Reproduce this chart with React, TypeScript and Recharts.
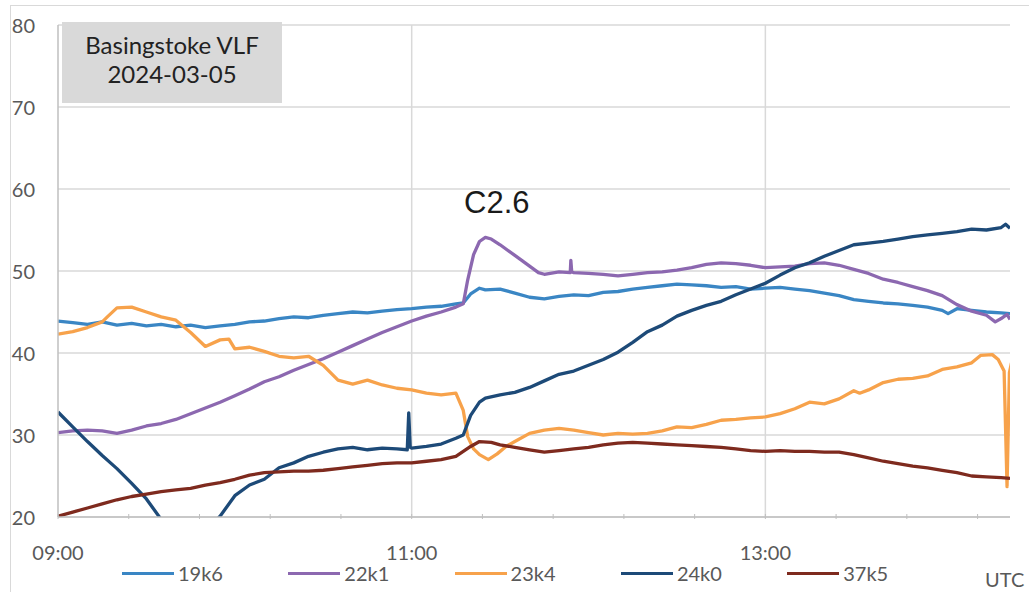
import React from 'react';
import { LineChart, Line, XAxis, YAxis, CartesianGrid, ReferenceLine } from 'recharts';

// time in minutes after 09:00 UTC, value
const s19k6: [number, number][] = [
  [0, 43.9], [5, 43.7], [10, 43.5], [15, 43.8], [20, 43.4], [25, 43.6], [30, 43.3], [35, 43.5],
  [40, 43.2], [45, 43.4], [50, 43.1], [55, 43.3], [60, 43.5], [65, 43.8], [70, 43.9], [75, 44.2],
  [80, 44.4], [85, 44.3], [90, 44.6], [95, 44.8], [100, 45.0], [105, 44.9], [110, 45.1], [115, 45.3],
  [120, 45.4], [125, 45.6], [130, 45.7], [135, 46.0], [137.5, 46.1], [140, 47.2], [143, 47.9], [145, 47.7],
  [150, 47.8], [155, 47.3], [160, 46.8], [165, 46.6], [170, 46.9], [175, 47.1], [180, 47.0], [185, 47.4],
  [190, 47.5], [195, 47.8], [200, 48.0], [205, 48.2], [210, 48.4], [215, 48.3], [220, 48.2], [225, 48.0],
  [230, 48.1], [235, 47.8], [240, 47.9], [245, 48.0], [250, 47.8], [255, 47.6], [260, 47.3], [265, 47.0],
  [270, 46.5], [275, 46.3], [280, 46.1], [285, 46.0], [290, 45.8], [295, 45.6], [300, 45.2], [302, 44.8],
  [305, 45.4], [310, 45.2], [315, 45.0], [320, 44.9], [323, 44.8],
];

const s22k1: [number, number][] = [
  [0, 30.3], [5, 30.5], [10, 30.6], [15, 30.5], [20, 30.2], [25, 30.6], [30, 31.1], [35, 31.4],
  [40, 31.9], [45, 32.6], [50, 33.3], [55, 34.0], [60, 34.8], [65, 35.6], [70, 36.5], [75, 37.1],
  [80, 37.9], [85, 38.6], [90, 39.3], [95, 40.1], [100, 40.9], [105, 41.7], [110, 42.5], [115, 43.2],
  [120, 43.9], [125, 44.5], [130, 45.0], [135, 45.6], [137.5, 46.0], [139, 48.9], [141, 52.0], [143, 53.6],
  [145, 54.1], [147, 53.9], [150, 53.2], [155, 51.9], [160, 50.6], [163, 49.8], [165, 49.6], [170, 49.9],
  [173.8, 49.8], [174, 51.3], [174.3, 49.9], [175, 49.8], [180, 49.7], [185, 49.6], [190, 49.4], [195, 49.6],
  [200, 49.8], [205, 49.9], [210, 50.1], [215, 50.4], [220, 50.8], [225, 51.0], [230, 50.9], [235, 50.7],
  [240, 50.4], [245, 50.5], [250, 50.6], [255, 50.9], [260, 51.0], [265, 50.7], [270, 50.2], [275, 49.7],
  [280, 49.0], [285, 48.6], [290, 48.1], [295, 47.6], [300, 47.0], [305, 45.9], [310, 45.1], [315, 44.6],
  [318, 43.8], [320, 44.2], [322, 44.7], [323, 44.1],
];

const s23k4: [number, number][] = [
  [0, 42.3], [5, 42.6], [10, 43.1], [15, 43.8], [17, 44.5], [20, 45.5], [25, 45.6], [30, 45.0],
  [35, 44.4], [40, 44.0], [45, 42.5], [50, 40.8], [55, 41.6], [58, 41.7], [60, 40.5], [65, 40.7],
  [70, 40.2], [75, 39.6], [80, 39.4], [85, 39.6], [90, 38.5], [95, 36.7], [100, 36.2], [105, 36.7],
  [110, 36.1], [115, 35.7], [120, 35.5], [125, 35.1], [130, 34.9], [135, 35.1], [137.5, 33.0], [139, 29.8],
  [141, 28.3], [143, 27.6], [146, 27.0], [149, 27.7], [152, 28.6], [155, 29.2], [160, 30.2], [165, 30.6],
  [170, 30.8], [175, 30.6], [180, 30.3], [185, 30.0], [190, 30.2], [195, 30.1], [200, 30.2], [205, 30.5],
  [210, 31.0], [215, 30.9], [220, 31.3], [225, 31.8], [230, 31.9], [235, 32.1], [240, 32.2], [245, 32.6],
  [250, 33.2], [255, 34.0], [260, 33.8], [265, 34.4], [270, 35.4], [272, 35.1], [275, 35.5], [280, 36.4],
  [285, 36.8], [290, 36.9], [295, 37.2], [300, 38.0], [305, 38.3], [310, 38.8], [313, 39.7], [317, 39.8],
  [319, 39.2], [321, 37.8], [322, 23.7], [322.8, 37.6], [323.5, 38.8],
];

const s24k0: [number, number][] = [
  [0, 32.8], [5, 31.0], [10, 29.2], [15, 27.5], [20, 25.9], [25, 24.1], [30, 22.2], [35, 19.7],
  [40, 17.9], [45, 16.4], [50, 18.2], [55, 20.1], [60, 22.6], [65, 23.9], [70, 24.6], [75, 26.0],
  [80, 26.6], [85, 27.4], [90, 27.9], [95, 28.3], [100, 28.5], [105, 28.2], [110, 28.4], [115, 28.3],
  [118.5, 28.2], [119, 32.7], [119.5, 28.5], [120, 28.4], [125, 28.6], [130, 28.9], [135, 29.6], [137.5, 30.0],
  [140, 32.4], [143, 34.0], [145, 34.5], [150, 34.9], [155, 35.2], [160, 35.8], [165, 36.6], [170, 37.4],
  [175, 37.8], [180, 38.5], [185, 39.2], [190, 40.1], [195, 41.3], [200, 42.6], [205, 43.4], [210, 44.5],
  [215, 45.2], [220, 45.8], [225, 46.3], [230, 47.1], [235, 47.8], [240, 48.5], [245, 49.5], [250, 50.4],
  [255, 51.0], [260, 51.8], [265, 52.5], [270, 53.2], [275, 53.4], [280, 53.6], [285, 53.9], [290, 54.2],
  [295, 54.4], [300, 54.6], [305, 54.8], [310, 55.1], [315, 55.0], [320, 55.3], [321.5, 55.7], [323, 55.2],
];

const s37k5: [number, number][] = [
  [0, 20.1], [5, 20.6], [10, 21.1], [15, 21.6], [20, 22.1], [25, 22.5], [30, 22.8], [35, 23.1],
  [40, 23.3], [45, 23.5], [50, 23.9], [55, 24.2], [60, 24.6], [65, 25.1], [70, 25.4], [75, 25.5],
  [80, 25.6], [85, 25.6], [90, 25.7], [95, 25.9], [100, 26.1], [105, 26.3], [110, 26.5], [115, 26.6],
  [120, 26.6], [125, 26.8], [130, 27.0], [135, 27.4], [140, 28.6], [143, 29.2], [147, 29.1], [150, 28.8],
  [155, 28.5], [160, 28.2], [165, 27.9], [170, 28.1], [175, 28.3], [180, 28.5], [185, 28.8], [190, 29.0],
  [195, 29.1], [200, 29.0], [205, 28.9], [210, 28.8], [215, 28.7], [220, 28.6], [225, 28.5], [230, 28.3],
  [235, 28.1], [240, 28.0], [245, 28.1], [250, 28.0], [255, 28.0], [260, 27.9], [265, 27.9], [270, 27.6],
  [275, 27.2], [280, 26.8], [285, 26.5], [290, 26.2], [295, 26.0], [300, 25.7], [305, 25.4], [310, 25.0],
  [315, 24.9], [320, 24.8], [323, 24.7],
];

const seriesNames = ['19k6', '22k1', '23k4', '24k0', '37k5'];
const seriesColors = ['#3a86c4', '#8c68b0', '#f7a24b', '#1d4a78', '#7e2a1e'];
const seriesData = [s19k6, s22k1, s23k4, s24k0, s37k5];

const yTicks = [20, 30, 40, 50, 60, 70, 80];
const xTicks = [0, 24, 48, 72, 96, 120, 144, 168, 192, 216, 240, 264, 288, 312];
const xLabels: Record<number, string> = { 0: '09:00', 120: '11:00', 240: '13:00' };
const xGrid = [120, 240];

const FONT = 'Lato, "Open Sans", sans-serif';
const AXIS_GRAY = '#bfbfbf';
const GRID_GRAY = '#d9d9d9';
const LABEL_GRAY = '#595959';

const XTick = (props: any) => {
  const { x, y, payload } = props;
  const label = xLabels[payload.value];
  return (
    <g>
      <line x1={x} x2={x} y1={y} y2={y - 5} stroke={AXIS_GRAY} strokeWidth={1} />
      {label && (
        <text x={x} y={y + 33} textAnchor="middle" dominantBaseline="central" fill={LABEL_GRAY} fontSize={20} fontFamily={FONT}>
          {label}
        </text>
      )}
    </g>
  );
};

const YTick = (props: any) => {
  const { y, payload } = props;
  return (
    <text x={35} y={y} textAnchor="end" dominantBaseline="central" fill={LABEL_GRAY} fontSize={20} fontFamily={FONT}>
      {payload.value}
    </text>
  );
};

export default function App() {
  return (
    <div style={{ position: 'absolute', left: 0, top: 0, width: 1029, height: 592, background: '#fff', overflow: 'hidden' }}>
      <div style={{ position: 'absolute', left: 10, top: 5, width: 1040, height: 600, borderLeft: `1px solid ${GRID_GRAY}`, borderTop: `1px solid ${GRID_GRAY}` }} />
      <LineChart width={1029} height={592} margin={{ top: 25, right: 19, bottom: 0, left: 0 }} style={{ position: 'absolute', left: 0, top: 0 }}>
        <CartesianGrid vertical={false} stroke={GRID_GRAY} strokeWidth={1.5} />
        {xGrid.map((g) => (
          <ReferenceLine key={g} x={g} stroke={GRID_GRAY} strokeWidth={1.5} />
        ))}
        <XAxis
          dataKey="t"
          type="number"
          domain={[0, 323]}
          ticks={xTicks}
          interval={0}
          height={75}
          tickSize={0}
          tickLine={false}
          axisLine={{ stroke: AXIS_GRAY, strokeWidth: 1.5 }}
          tick={<XTick />}
          allowDataOverflow
        />
        <YAxis
          type="number"
          domain={[20, 80]}
          ticks={yTicks}
          width={58}
          tickLine={false}
          axisLine={{ stroke: AXIS_GRAY, strokeWidth: 1.5 }}
          tick={<YTick />}
          allowDataOverflow
        />
        {seriesData.map((s, i) => (
          <Line
            key={seriesNames[i]}
            data={s.map(([t, v]) => ({ t, v }))}
            dataKey="v"
            name={seriesNames[i]}
            type="linear"
            stroke={seriesColors[i]}
            strokeWidth={3.3}
            strokeLinejoin="round"
            dot={false}
            activeDot={false}
            isAnimationActive={false}
          />
        ))}
      </LineChart>
      <div
        style={{
          position: 'absolute', left: 62, top: 22, width: 220, height: 81, background: GRID_GRAY,
          fontFamily: FONT, fontSize: 24, color: '#222', textAlign: 'center', lineHeight: '29px', paddingTop: 8, boxSizing: 'border-box',
        }}
      >
        <div>Basingstoke VLF</div>
        <div>2024-03-05</div>
      </div>
      <div style={{ position: 'absolute', left: 464, top: 185, fontFamily: '"Liberation Sans", Arial, sans-serif', fontSize: 31, color: '#1a1a1a', lineHeight: '36px' }}>
        C2.6
      </div>
      {seriesNames.map((n, i) => (
        <div key={n} style={{ position: 'absolute', left: 122 + i * 166.3, top: 561, height: 24, display: 'flex', alignItems: 'center', fontFamily: FONT, fontSize: 20, color: LABEL_GRAY }}>
          <div style={{ width: 52, height: 3, background: seriesColors[i], marginRight: 4 }} />
          <span>{n}</span>
        </div>
      ))}
      <div style={{ position: 'absolute', left: 985, top: 567, fontFamily: FONT, fontSize: 20, color: LABEL_GRAY, lineHeight: '24px', whiteSpace: 'nowrap' }}>
        UTC
      </div>
    </div>
  );
}
